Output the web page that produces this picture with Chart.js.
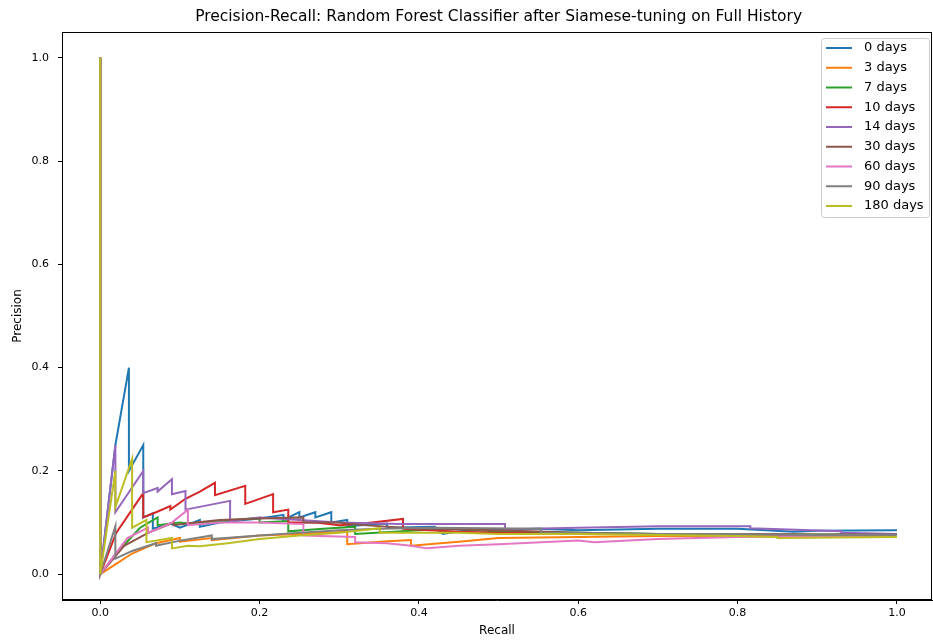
<!DOCTYPE html>
<html lang="en">
<head>
    <meta charset="UTF-8">
    <title>Precision-Recall</title>
    <script src="https://cdn.jsdelivr.net/npm/chart.js"></script>
    <style>
        body { margin: 0; background: #fff; }
        #wrap { width: 933px; height: 640px; }
    </style>
</head>
<body>
<div id="wrap"><canvas id="prChart" width="933" height="640"></canvas></div>

<script>
    // [recall, precision] pairs for each horizon
    const days0 = [[0, 1], [0, 0], [0.019, 0.25], [0.036, 0.40], [0.036, 0.20], [0.054, 0.25], [0.054, 0.11],
        [0.066, 0.118], [0.066, 0.088], [0.088, 0.098], [0.10, 0.09], [0.125, 0.105], [0.125, 0.092], [0.15, 0.10],
        [0.20, 0.108], [0.23, 0.115], [0.23, 0.105], [0.25, 0.12], [0.25, 0.11], [0.27, 0.12], [0.27, 0.11],
        [0.29, 0.12], [0.29, 0.10], [0.31, 0.105], [0.31, 0.093], [0.36, 0.098], [0.36, 0.09], [0.42, 0.092],
        [0.43, 0.078], [0.46, 0.085], [0.55, 0.088], [0.60, 0.085], [0.70, 0.088], [0.80, 0.088], [0.87, 0.082],
        [0.90, 0.084], [1.0, 0.085]];
    const days3 = [[0, 1], [0, 0], [0.02, 0.02], [0.04, 0.04], [0.07, 0.06], [0.10, 0.07], [0.10, 0.063],
        [0.14, 0.07], [0.14, 0.066], [0.20, 0.075], [0.25, 0.078], [0.31, 0.082], [0.31, 0.058], [0.36, 0.064],
        [0.39, 0.066], [0.39, 0.055], [0.45, 0.063], [0.50, 0.07], [0.60, 0.072], [0.70, 0.074], [0.80, 0.073],
        [0.90, 0.074], [1.0, 0.074]];
    const days7 = [[0, 1], [0, 0], [0.02, 0.04], [0.038, 0.07], [0.05, 0.09], [0.072, 0.11], [0.072, 0.095],
        [0.10, 0.10], [0.11, 0.098], [0.15, 0.103], [0.20, 0.109], [0.20, 0.10], [0.236, 0.103], [0.236, 0.083],
        [0.28, 0.088], [0.32, 0.092], [0.32, 0.078], [0.40, 0.085], [0.45, 0.088], [0.50, 0.082], [0.60, 0.08],
        [0.70, 0.078], [0.80, 0.078], [0.90, 0.077], [1.0, 0.078]];
    const days10 = [[0, 1], [0, 0], [0.02, 0.08], [0.054, 0.157], [0.054, 0.11], [0.07, 0.12], [0.088, 0.132],
        [0.088, 0.125], [0.107, 0.146], [0.125, 0.16], [0.144, 0.177], [0.144, 0.153], [0.182, 0.171],
        [0.182, 0.136], [0.217, 0.155], [0.217, 0.12], [0.236, 0.125], [0.236, 0.10], [0.27, 0.10], [0.30, 0.095],
        [0.33, 0.098], [0.38, 0.107], [0.38, 0.088], [0.45, 0.082], [0.50, 0.08], [0.60, 0.078], [0.70, 0.078],
        [0.80, 0.078], [0.90, 0.076], [1.0, 0.075]];
    const days14 = [[0, 1], [0, 0], [0.019, 0.25], [0.019, 0.12], [0.054, 0.20], [0.054, 0.157], [0.072, 0.167],
        [0.072, 0.16], [0.09, 0.184], [0.09, 0.155], [0.107, 0.161], [0.107, 0.125], [0.163, 0.142],
        [0.163, 0.103], [0.20, 0.11], [0.25, 0.105], [0.30, 0.10], [0.376, 0.097], [0.508, 0.097], [0.508, 0.087],
        [0.60, 0.09], [0.70, 0.093], [0.816, 0.093], [0.816, 0.089], [0.93, 0.083], [0.93, 0.08], [1.0, 0.078]];
    const days30 = [[0, 1], [0, 0], [0.03, 0.055], [0.06, 0.08], [0.092, 0.10], [0.092, 0.095], [0.12, 0.10],
        [0.15, 0.105], [0.20, 0.108], [0.255, 0.11], [0.255, 0.10], [0.30, 0.10], [0.33, 0.095], [0.40, 0.088],
        [0.50, 0.085], [0.60, 0.08], [0.70, 0.078], [0.80, 0.077], [0.90, 0.077], [1.0, 0.077]];
    const days60 = [[0, 1], [0, 0], [0.034, 0.07], [0.06, 0.09], [0.06, 0.08], [0.09, 0.10], [0.11, 0.125],
        [0.11, 0.095], [0.15, 0.10], [0.20, 0.10], [0.255, 0.097], [0.255, 0.075], [0.32, 0.072], [0.32, 0.062],
        [0.36, 0.06], [0.39, 0.055], [0.41, 0.05], [0.45, 0.055], [0.50, 0.058], [0.60, 0.065], [0.62, 0.062],
        [0.70, 0.068], [0.80, 0.072], [0.90, 0.074], [1.0, 0.075]];
    const days90 = [[0, 1], [0, 0], [0.019, 0.093], [0.019, 0.03], [0.04, 0.045], [0.07, 0.06], [0.07, 0.055],
        [0.10, 0.065], [0.14, 0.075], [0.14, 0.068], [0.20, 0.075], [0.247, 0.08], [0.30, 0.085], [0.35, 0.088],
        [0.42, 0.09], [0.553, 0.088], [0.553, 0.08], [0.70, 0.078], [0.80, 0.078], [0.90, 0.076], [1.0, 0.076]];
    const days180 = [[0, 1], [0, 0], [0.019, 0.20], [0.019, 0.13], [0.04, 0.223], [0.04, 0.09], [0.058, 0.105],
        [0.058, 0.062], [0.09, 0.07], [0.09, 0.05], [0.11, 0.055], [0.125, 0.054], [0.16, 0.06], [0.20, 0.068],
        [0.25, 0.075], [0.30, 0.08], [0.351, 0.089], [0.351, 0.08], [0.45, 0.08], [0.50, 0.078], [0.60, 0.078],
        [0.70, 0.076], [0.80, 0.074], [0.85, 0.072], [0.85, 0.07], [1.0, 0.072]];

    const seriesLabels = ['0 days', '3 days', '7 days', '10 days', '14 days', '30 days', '60 days', '90 days', '180 days'];
    const seriesData = [days0, days3, days7, days10, days14, days30, days60, days90, days180];
    const colors = ['#1f77b4', '#ff7f0e', '#2ca02c', '#d62728', '#9467bd', '#8c564b', '#e377c2', '#7f7f7f', '#bcbd22'];
    const tickValues = [0, 0.2, 0.4, 0.6, 0.8, 1.0];
    const chartTitle = 'Precision-Recall: Random Forest Classifier after Siamese-tuning on Full History';

    const FONT = 'DejaVu Sans';

    // title over the axes, spines on all four sides, legend box in the upper right
    const framePlugin = {
        id: 'frame',
        afterDraw(chart) {
            const ctx = chart.ctx;
            const a = chart.chartArea;
            ctx.save();
            ctx.strokeStyle = '#000';
            ctx.lineWidth = 1;
            ctx.strokeRect(a.left + 0.5, a.top + 0.5, a.right - a.left - 1, a.bottom - a.top - 1);

            // axes run a little past the right edge, so centre on the full axes span
            const xs = chart.scales.x;
            const cx = (xs.getPixelForValue(-0.05) + xs.getPixelForValue(1.05)) / 2;
            ctx.fillStyle = '#000';
            ctx.font = '15.5px ' + FONT;
            ctx.textAlign = 'center';
            ctx.textBaseline = 'middle';
            ctx.fillText(chartTitle, cx, 17);

            const bx = 821, by = 38, bw = 108, bh = 179;
            ctx.fillStyle = 'rgba(255,255,255,0.8)';
            ctx.strokeStyle = '#cccccc';
            ctx.beginPath();
            ctx.roundRect(bx + 0.5, by + 0.5, bw, bh, 3);
            ctx.fill();
            ctx.stroke();

            ctx.font = '13px ' + FONT;
            ctx.textAlign = 'left';
            ctx.fillStyle = '#000';
            chart.data.datasets.forEach((ds, i) => {
                const y = 48 + i * 19.75;
                ctx.strokeStyle = ds.borderColor;
                ctx.lineWidth = 2;
                ctx.beginPath();
                ctx.moveTo(826, y);
                ctx.lineTo(852, y);
                ctx.stroke();
                ctx.fillText(ds.label, 864, y);
            });
            ctx.restore();
        }
    };

    const ctx = document.getElementById('prChart').getContext('2d');
    new Chart(ctx, {
        type: 'line',
        data: {
            datasets: seriesData.map((pts, i) => ({
                label: seriesLabels[i],
                data: pts.map(p => ({x: p[0], y: p[1]})),
                borderColor: colors[i],
                borderWidth: 2,
                pointRadius: 0,
                tension: 0,
                fill: false,
                order: seriesData.length - i
            }))
        },
        options: {
            responsive: false,
            animation: false,
            layout: {padding: {top: 32, right: 1, left: 0, bottom: 0}},
            plugins: {
                legend: {display: false},
                tooltip: {enabled: false},
                title: {display: false}
            },
            scales: {
                x: {
                    type: 'linear',
                    min: -0.048,
                    max: 1.044,
                    afterBuildTicks: s => { s.ticks = tickValues.map(v => ({value: v})); },
                    afterFit: s => { s.height = 40; },
                    grid: {drawOnChartArea: false, drawTicks: true, tickLength: 4, color: '#000'},
                    border: {display: true, color: '#000'},
                    ticks: {
                        color: '#000', padding: 3, maxRotation: 0,
                        font: {family: FONT, size: 11},
                        callback: v => v.toFixed(1)
                    },
                    title: {
                        display: true, text: 'Recall', color: '#000',
                        font: {family: FONT, size: 12}, padding: {top: 0, bottom: 2}
                    }
                },
                y: {
                    type: 'linear',
                    min: -0.05,
                    max: 1.05,
                    afterBuildTicks: s => { s.ticks = tickValues.map(v => ({value: v})); },
                    afterFit: s => { s.width = 62; },
                    grid: {drawOnChartArea: false, drawTicks: true, tickLength: 4, color: '#000'},
                    border: {display: true, color: '#000'},
                    ticks: {
                        color: '#000', padding: 9,
                        font: {family: FONT, size: 11},
                        callback: v => v.toFixed(1)
                    },
                    title: {
                        display: true, text: 'Precision', color: '#000',
                        font: {family: FONT, size: 12}, padding: {top: 11, bottom: 0}
                    }
                }
            }
        },
        plugins: [framePlugin]
    });
</script>
</body>
</html>
